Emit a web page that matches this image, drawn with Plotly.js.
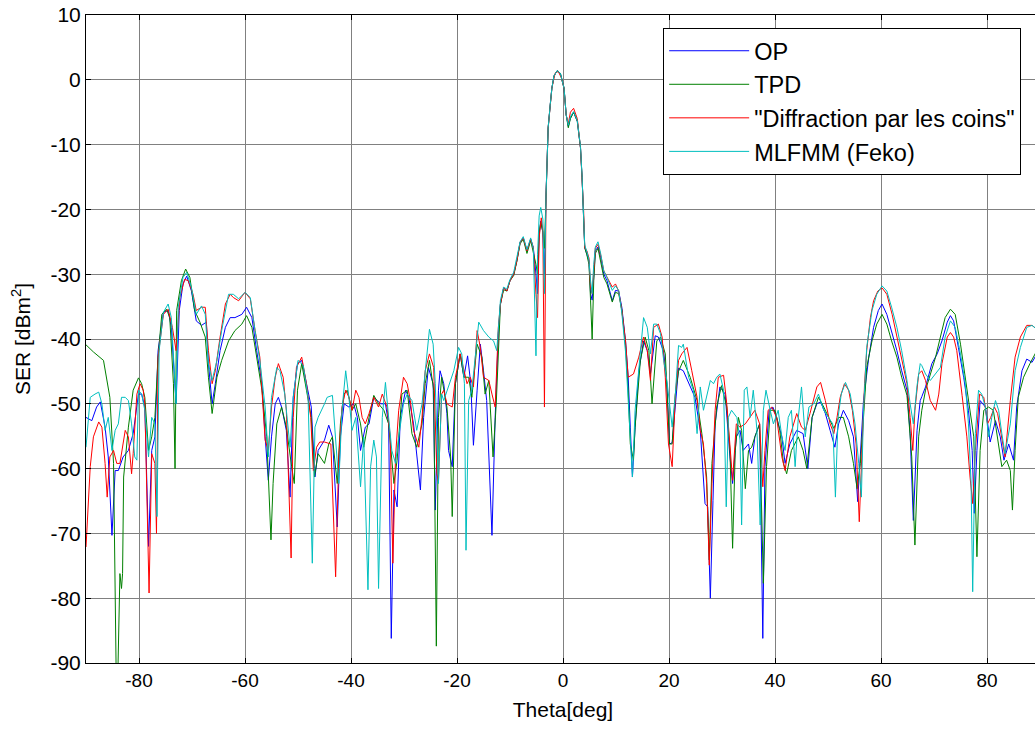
<!DOCTYPE html>
<html>
<head>
<meta charset="utf-8">
<script src="https://cdn.plot.ly/plotly-3.0.1.min.js"></script>
<style>
html,body{margin:0;padding:0;overflow:hidden;background:#fff;}
#chart{width:1045px;height:731px;}
</style>
</head>
<body>
<div id="chart"></div>
<script>
// ---- Series names ----
const seriesNames = ["OP", "TPD", "\"Diffraction par les coins\"", "MLFMM (Feko)"];

// ---- OP (blue) ----
const opTheta = [-90,-88.9,-88.0,-87.3,-86.4,-85.8,-85.1,-84.5,-83.9,-83.0,-82.0,-81.1,-80.1,-79.5,-78.9,-78.2,-77.6,-77.0,-76.4,-75.4,-74.5,-73.9,-73.0,-72.4,-71.7,-71.0,-70.1,-69.2,-68.2,-67.3,
-66.9,-66.2,-65.6,-64.7,-63.7,-62.8,-61.9,-60.6,-59.7,-58.7,-57.8,-56.8,-56.2,-55.6,-55.0,-54.3,-53.7,-53.1,-52.2,-51.5,-50.9,-50.1,-49.3,-48.4,-47.5,-46.8,-46.2,-45.0,
-44.2,-43.5,-42.6,-42.0,-41.3,-40.4,-39.5,-38.8,-38.2,-37.3,-36.6,-35.7,-34.4,-33.5,-32.9,-32.4,-31.9,-31.3,-30.7,-29.7,-29.1,-28.2,-27.2,-26.9,-26.3,-25.4,-24.5,-24.1,-23.5,-23.2,-22.5,
-21.9,-21.6,-20.9,-20.3,-19.4,-18.7,-18.0,-17.4,-16.9,-16.2,-15.6,-15.0,-14.4,-13.4,-12.8,-12.2,
-11.8,-11.2,-10.6,-10.0,-9.3,-8.7,-8.1,-7.5,-6.8,-6.1,-5.6,-5.1,-4.8,-4.5,-4.2,-3.8,-3.5,-3.2,-2.8,-2.4,-2.1,-1.7,-1.1,-0.5,0.2,0.6,1.0,1.4,2.0,2.7,3.3,3.6,3.9,4.1,4.5,4.9,5.2,5.5,5.8,6.1,6.6,7.1,7.7,8.3,9.3,9.9,10.5,11.1,11.8,12.3,12.7,13.1,13.6,14.3,15.2,15.9,16.5,17.4,18.0,19.0,19.6,20.1,20.6,21.2,21.8,22.7,
23.7,24.9,25.9,26.8,27.3,27.8,28.3,28.7,29.6,30.6,31.5,32.0,32.7,33.4,34.0,35.0,35.6,36.2,37.1,37.7,38.1,38.9,39.6,40.3,41.3,41.9,42.8,44.1,45.3,
45.7,46.2,47.0,47.9,48.6,49.5,50.4,51.3,52.0,52.9,53.9,54.8,55.6,56.1,56.7,57.7,58.6,59.5,60.2,61.1,62.0,63.0,63.9,64.9,65.5,66.1,66.8,67.4,67.7,
68.4,69.6,70.6,71.5,72.5,73.1,73.7,74.6,75.6,76.5,77.2,77.6,78.1,78.7,79.7,80.6,81.6,82.5,83.2,84.1,85.0,85.6,86.6,87.5,88.5,89.4,90];
const opSER = [-52.1,-52.6,-50.5,-49.7,-53.6,-58.2,-70.3,-60.3,-60.3,-58.2,-57.2,-54.6,-48.5,-48.5,-50.5,-72.0,-57.2,-55.1,-41.8,-35.9,-35.6,-38.2,-50.0,-35.6,-31.5,-30.3,-32.6,-37.2,-37.9,-37.4,
-43.8,-50.0,-46.9,-41.8,-38.2,-36.7,-36.7,-36.2,-35.1,-36.7,-41.8,-46.9,-55.1,-61.8,-55.1,-50.0,-49.0,-50.5,-54.1,-64.4,-49.0,-43.8,-43.3,-46.9,-50.5,-61.3,-57.2,-55.6,
-53.3,-55.1,-69.0,-55.1,-50.0,-50.5,-50.0,-52.1,-57.2,-53.6,-53.1,-49.0,-50.0,-50.0,-53.1,-86.2,-63.3,-65.9,-52.1,-47.9,-49.0,-53.1,-60.3,-63.3,-52.1,-44.4,-46.9,-66.4,-47.9,-44.9,-46.9,
-51.5,-57.2,-59.7,-46.9,-42.3,-45.9,-42.6,-46.9,-56.4,-47.9,-40.8,-44.9,-49.5,-70.3,-52.1,-39.2,
-34.6,-32.1,-32.6,-31.0,-30.0,-27.9,-25.1,-24.4,-26.4,-24.6,-25.9,-30.0,-33.0,-24.0,-21.8,-23.5,-30.0,-17.7,-7.4,-3.8,-1.3,0.6,1.4,1.0,-1.3,-5.4,-7.2,-5.9,-5.0,-6.4,-10.5,-15.1,-20.3,-25.9,-26.9,-28.0,-33.0,-34.0,-30.5,-26.4,-25.8,-27.4,-30.0,-31.0,-34.1,-32.5,-32.6,-35.1,-40.3,-45.9,-53.6,-61.3,-53.6,-45.0,-40.3,-41.8,-45.4,-39.5,-39.7,-42.0,-47.0,-56.2,-56.0,-50.0,-44.5,-44.9,
-46.9,-49.0,-54.1,-65.4,-65.9,-80.0,-64.9,-53.1,-47.4,-48.5,-58.2,-62.3,-55.1,-54.1,-57.2,-56.2,-59.2,-55.1,-53.1,-86.2,-59.7,-51.0,-50.5,-52.1,-55.1,-59.2,-56.2,-54.1,-54.6,
-57.2,-60.0,-52.1,-50.0,-49.7,-51.5,-54.1,-56.7,-53.1,-51.0,-52.6,-55.1,-65.1,-57.7,-49.5,-42.8,-38.2,-35.6,-34.6,-36.2,-38.7,-41.8,-44.9,-47.9,-54.6,-68.0,-54.1,-49.5,-48.9,
-47.4,-43.8,-42.3,-40.3,-37.4,-36.4,-37.2,-41.3,-45.9,-51.0,-57.2,-66.9,-57.2,-49.5,-50.5,-55.9,-52.6,-55.1,-58.7,-56.2,-58.7,-50.5,-44.9,-43.1,-43.6,-42.3,-42.0];

// ---- TPD (green) ----
const tpdTheta = [-90,-88.6,-86.7,-85.5,-84.8,-84.3,-84.0,-83.6,-83.3,-83.1,-82.9,-82.0,-81.1,-80.1,-79.5,-78.9,-78.2,-77.6,-77.0,-76.4,-75.7,-74.8,-74.2,-73.5,-73.2,-72.9,-72.0,-71.2,-70.4,-69.5,-68.5,-67.5,
-66.9,-66.2,-65.3,-64.4,-63.1,-61.9,-60.6,-59.7,-58.7,-57.8,-56.8,-55.9,-55.1,-54.7,-54.0,-53.1,-52.2,-51.2,-50.7,-50.1,-49.3,-48.4,-47.5,-46.9,-46.2,-45.0,
-44.2,-43.5,-42.6,-42.0,-41.3,-40.7,-39.8,-39.1,-38.2,-37.6,-36.6,-35.7,-34.8,-33.8,-32.9,-31.9,-31.3,-30.4,-29.4,-28.5,-27.6,-26.6,-26.0,-25.2,-24.4,-23.9,-23.5,-22.9,
-21.9,-21.2,-20.9,-20.3,-19.4,-18.7,-17.8,-17.2,-16.2,-15.3,-14.7,-14.0,-13.2,-12.6,-12.0,
-11.8,-11.2,-10.6,-10.0,-9.3,-8.7,-8.1,-7.5,-6.8,-6.1,-5.6,-5.1,-4.8,-4.5,-4.2,-3.8,-3.5,-3.2,-2.8,-2.4,-2.1,-1.7,-1.1,-0.5,0.2,0.6,1.0,1.4,2.0,2.7,3.3,3.6,3.9,4.1,4.5,4.9,5.2,5.5,5.8,6.1,6.6,7.1,7.7,8.3,9.3,9.9,10.5,11.1,11.8,12.3,12.7,13.3,13.6,14.6,15.5,16.2,16.8,17.7,18.4,19.3,20.1,20.6,21.2,21.8,22.7,
24.0,25.3,26.2,27.1,27.6,28.1,29.0,29.9,30.9,31.5,32.0,32.5,33.1,33.7,34.4,35.0,35.6,36.2,37.1,37.8,38.4,39.1,40.0,40.9,41.6,42.2,43.1,44.4,45.3,
46.0,47.0,48.2,49.2,50.1,51.1,52.0,52.9,53.9,54.8,55.5,56.1,56.7,57.3,58.3,59.2,60.2,61.1,62.0,63.0,63.9,64.9,65.8,66.4,67.1,67.7,
68.4,69.3,70.3,71.2,72.1,73.1,74.0,75.0,75.9,76.8,77.5,78.1,78.7,79.4,80.3,81.2,81.9,82.8,83.7,84.4,84.8,85.3,85.9,86.9,88.1,88.8,89.4,90];
const tpdSER = [-40.9,-42.0,-43.3,-49.0,-59.2,-92.0,-92.0,-76.2,-78.5,-76.2,-61.3,-53.6,-47.9,-46.0,-46.9,-49.0,-57.2,-55.1,-52.1,-42.8,-36.2,-35.4,-36.7,-46.9,-60.0,-35.6,-31.0,-29.2,-30.5,-35.6,-37.4,-39.7,
-45.9,-51.5,-45.9,-43.3,-40.3,-38.7,-37.7,-36.4,-38.2,-42.8,-47.9,-55.1,-71.0,-62.3,-53.1,-50.5,-53.6,-59.7,-62.3,-47.9,-43.8,-47.9,-52.1,-61.3,-57.7,-59.2,
-56.2,-55.1,-62.3,-53.1,-48.5,-47.9,-51.0,-50.0,-53.1,-56.7,-52.1,-48.7,-50.0,-51.0,-53.1,-62.3,-58.7,-48.5,-47.9,-54.6,-56.7,-53.1,-46.9,-43.3,-47.9,-87.4,-52.1,-45.9,
-50.5,-58.2,-67.4,-46.9,-42.3,-45.9,-45.9,-49.0,-40.8,-42.8,-48.5,-46.4,-58.2,-50.0,-38.7,
-34.6,-32.4,-32.6,-31.0,-30.2,-28.0,-25.3,-24.6,-26.8,-24.8,-26.5,-28.5,-30.0,-23.5,-22.0,-23.5,-26.0,-17.7,-7.4,-3.8,-1.3,0.6,1.4,1.0,-1.3,-5.4,-7.4,-6.0,-5.0,-6.4,-10.5,-15.1,-20.3,-25.9,-27.0,-28.5,-34.0,-40.0,-31.0,-26.8,-26.0,-28.0,-30.5,-31.5,-34.3,-32.8,-33.0,-35.5,-41.0,-48.0,-56.2,-58.7,-53.6,-43.3,-39.7,-41.8,-50.0,-40.3,-39.7,-42.3,-56.2,-56.2,-48.5,-45.0,-43.3,
-45.9,-49.5,-54.6,-61.3,-74.1,-59.2,-50.5,-47.2,-50.5,-57.2,-72.3,-57.2,-52.1,-54.1,-63.1,-57.2,-56.7,-55.1,-53.1,-77.7,-59.7,-51.0,-51.0,-54.1,-59.2,-60.8,-57.2,-55.1,-57.2,
-60.0,-52.1,-49.0,-50.5,-52.1,-53.8,-52.1,-52.1,-55.1,-59.2,-63.1,-59.2,-52.1,-44.4,-40.3,-37.7,-36.2,-37.7,-40.3,-42.8,-45.9,-48.7,-58.2,-71.8,-55.1,-51.0,
-47.9,-45.4,-42.8,-39.7,-36.7,-35.4,-36.2,-40.8,-45.9,-51.0,-55.1,-73.6,-57.2,-51.0,-50.5,-51.0,-54.6,-59.7,-58.7,-60.3,-66.4,-57.2,-49.0,-45.9,-43.8,-42.6,-41.8,-41.5];

// ---- "Diffraction par les coins" (red) ----
const dpcTheta = [-90,-89.2,-88.6,-87.6,-87.0,-86.4,-86.0,-85.5,-84.8,-84.2,-83.6,-82.6,-82.0,-81.4,-81.1,-80.4,-79.8,-79.2,-78.9,-78.1,-77.6,-77.0,-76.7,-76.4,-75.4,-74.5,-73.7,-73.0,-72.3,-71.4,-70.7,-69.8,-69.2,-68.2,
-67.5,-66.9,-66.2,-65.6,-64.7,-63.7,-62.8,-62.2,-61.2,-60.0,-59.0,-58.1,-57.2,-56.2,-55.6,-55.0,-54.3,-53.7,-52.8,-52.2,-51.3,-50.9,-50.3,-49.3,-48.4,-47.6,-47.1,-46.5,-45.9,-45.0,
-43.8,-42.9,-42.3,-41.7,-41.0,-40.4,-39.8,-39.1,-38.5,-37.9,-37.3,-36.6,-35.7,-34.8,-34.1,-33.2,-32.6,-32.1,-31.6,-31.0,-30.1,-29.4,-28.8,-28.2,-27.2,-26.6,-26.0,-25.2,-24.4,-23.8,-23.5,-22.9,-22.5,
-21.9,-20.9,-20.3,-19.4,-18.7,-18.1,-17.5,-16.9,-16.2,-15.6,-15.0,-14.0,-13.4,-12.8,-12.2,
-11.8,-11.2,-10.6,-10.0,-9.3,-8.7,-8.1,-7.5,-6.8,-6.1,-5.6,-5.1,-4.8,-4.5,-4.1,-3.8,-3.5,-3.2,-2.8,-2.1,-1.5,-0.9,-0.3,0.2,0.6,1.0,1.4,2.0,2.7,3.3,3.6,3.9,4.1,4.5,4.9,5.2,5.5,5.8,6.1,6.6,7.1,7.7,8.3,9.3,9.9,10.5,11.1,11.8,12.3,13.3,14.3,15.2,15.9,16.5,17.1,18.0,18.7,19.3,19.9,20.6,21.2,21.8,22.4,
23.4,24.3,25.3,25.9,26.5,27.1,27.6,28.1,28.7,29.3,30.3,30.9,31.5,32.0,32.7,33.4,34.4,35.3,36.2,37.1,37.7,38.1,38.7,39.4,40.3,41.3,41.9,42.8,44.1,45.0,
45.7,46.6,47.9,48.6,49.5,50.4,51.1,51.7,52.3,53.1,53.9,54.6,55.3,55.9,56.4,56.9,57.3,58.0,58.6,59.4,60.2,61.1,62.1,63.0,64.0,64.9,65.5,66.0,66.4,67.1,67.7,
68.4,69.3,70.3,70.9,71.5,72.5,73.1,73.7,74.3,75.3,76.2,76.8,77.3,77.8,78.6,79.4,80.1,80.7,81.4,82.0,82.8,83.4,84.4,85.3,86.3,87.5,88.5,89.4,90];
const dpcSER = [-72.1,-59.7,-55.1,-52.8,-53.6,-59.2,-64.4,-58.2,-57.2,-59.2,-59.2,-54.1,-55.1,-60.8,-57.7,-48.5,-46.9,-47.9,-50.0,-79.2,-57.7,-59.2,-70.0,-42.8,-36.2,-35.4,-38.2,-41.8,-33.6,-30.8,-31.0,-33.1,-35.6,-35.1,
-35.1,-41.8,-46.9,-44.9,-39.7,-34.6,-33.1,-33.6,-34.1,-32.8,-33.8,-38.7,-42.8,-55.6,-57.2,-50.5,-45.9,-43.8,-45.9,-51.0,-73.8,-52.1,-44.4,-42.8,-46.9,-52.1,-60.3,-56.7,-55.9,-55.9,
-56.2,-76.7,-58.2,-50.5,-47.9,-49.0,-51.0,-47.9,-49.0,-52.1,-53.1,-51.5,-49.0,-50.5,-48.5,-50.5,-55.1,-74.6,-58.2,-51.0,-45.9,-46.9,-49.5,-54.1,-56.7,-52.1,-44.9,-42.3,-44.4,-60.8,-62.0,-48.5,-47.9,
-50.0,-50.5,-45.9,-42.3,-44.9,-46.9,-45.9,-47.4,-38.7,-41.3,-45.9,-46.4,-48.5,-50.5,-38.2,
-34.6,-32.1,-32.6,-31.0,-30.0,-27.9,-25.1,-24.4,-26.4,-24.6,-25.9,-33.1,-36.7,-24.4,-21.3,-23.3,-50.5,-17.7,-7.4,-1.3,1.0,1.3,0.3,-1.3,-5.4,-6.8,-5.0,-4.4,-6.0,-10.5,-15.1,-20.3,-25.9,-26.4,-27.5,-32.0,-33.0,-29.0,-26.0,-25.4,-27.0,-29.5,-30.5,-32.0,-31.5,-32.6,-35.6,-40.3,-45.9,-45.4,-42.8,-39.7,-41.8,-46.4,-38.2,-37.7,-39.7,-45.9,-56.2,-59.7,-48.5,-43.3,-42.3,
-41.3,-44.9,-49.0,-54.1,-56.2,-62.3,-74.9,-62.3,-51.0,-45.9,-45.6,-50.0,-57.2,-61.8,-53.1,-53.6,-53.1,-52.1,-51.0,-53.1,-62.8,-57.2,-51.0,-50.5,-52.1,-58.2,-60.3,-55.1,-51.5,-53.6,
-54.1,-51.5,-47.4,-46.7,-49.5,-53.1,-54.6,-52.1,-49.0,-46.9,-47.9,-51.0,-56.2,-68.2,-57.2,-46.9,-41.8,-36.7,-34.1,-32.6,-32.1,-33.1,-36.2,-39.7,-43.3,-46.9,-52.1,-57.2,-51.0,-45.4,-44.9,
-46.4,-49.5,-51.0,-48.5,-43.8,-39.7,-39.0,-39.7,-41.8,-48.7,-55.1,-61.3,-65.4,-57.2,-48.5,-49.0,-53.1,-52.1,-50.5,-51.5,-55.1,-58.2,-49.5,-42.8,-39.7,-37.9,-37.9,-38.5,-38.5];

// ---- MLFMM (Feko) (cyan) ----
const mlfTheta = [-90,-89.2,-88.3,-87.6,-87.0,-86.4,-85.8,-85.1,-84.5,-83.9,-83.3,-82.6,-82.0,-81.4,-80.8,-80.4,-80.1,-79.5,-78.9,-78.2,-77.6,-77.0,-76.6,-76.2,-75.4,-74.5,-73.9,-73.0,-72.6,-71.7,-71.0,-70.1,-69.2,-68.2,
-67.5,-66.9,-66.2,-65.3,-64.4,-63.1,-62.2,-61.2,-60.0,-59.0,-58.1,-57.2,-56.2,-55.6,-55.0,-54.0,-53.4,-52.5,-51.5,-50.9,-50.0,-49.0,-48.1,-47.3,-46.8,-46.2,-45.0,
-44.5,-43.5,-42.9,-42.3,-41.7,-41.0,-40.4,-39.8,-39.1,-38.5,-38.2,-37.6,-36.8,-36.3,-35.7,-35.2,-34.8,-34.1,-33.5,-32.9,-32.3,-31.6,-31.0,-30.1,-29.4,-28.5,-27.6,-26.6,-26.0,-25.2,-24.5,-24.1,-23.5,-22.9,-22.5,
-21.6,-20.6,-19.7,-19.1,-18.6,-18.3,-17.8,-17.2,-16.5,-15.9,-15.0,-14.0,-13.1,-12.5,
-11.8,-11.2,-10.6,-10.0,-9.3,-8.7,-8.1,-7.5,-6.8,-6.1,-5.6,-5.1,-4.8,-4.5,-4.2,-3.8,-3.5,-3.2,-2.8,-2.4,-2.1,-1.7,-1.1,-0.5,0.2,0.6,1.0,1.4,2.0,2.7,3.3,3.6,3.9,4.1,4.5,4.9,5.2,5.5,5.8,6.1,6.6,7.1,7.7,8.3,9.3,9.9,10.5,11.1,11.8,12.3,12.7,13.1,13.6,14.6,15.2,15.9,16.5,17.1,17.7,18.4,19.0,19.6,20.6,21.2,21.8,22.4,
22.7,23.7,24.6,25.3,25.9,26.5,27.1,27.8,28.4,29.0,29.6,30.3,30.8,31.2,31.8,32.8,33.4,33.7,34.2,34.7,35.3,35.9,36.6,37.2,37.8,38.3,39.1,39.7,40.6,41.3,41.9,42.5,43.1,43.8,44.4,45.0,
45.7,46.4,47.3,48.2,49.2,50.1,50.9,51.4,51.9,52.5,53.3,54.2,55.1,55.8,56.3,56.7,57.3,58.3,59.2,60.2,61.1,62.0,63.0,63.9,64.9,65.5,66.1,66.8,67.4,67.7,
68.4,69.3,70.3,71.2,72.1,73.1,74.0,75.0,75.9,76.5,77.0,77.3,77.8,78.4,79.0,79.7,80.3,80.9,81.6,82.2,82.8,83.4,84.4,85.3,86.3,87.5,88.5,89.4,90];
const mlfSER = [-56.7,-49.0,-48.5,-48.2,-50.0,-54.1,-52.1,-57.2,-54.1,-53.1,-49.0,-49.0,-49.5,-53.1,-58.2,-58.7,-47.9,-48.5,-51.0,-58.2,-52.1,-53.1,-67.4,-41.8,-35.9,-34.6,-36.7,-50.0,-35.1,-30.5,-29.7,-32.1,-36.2,-34.9,
-36.2,-43.8,-46.4,-43.3,-38.7,-33.1,-33.1,-33.8,-32.8,-33.6,-38.7,-43.3,-50.5,-58.2,-49.0,-44.4,-44.9,-48.5,-56.7,-49.0,-43.3,-44.1,-49.0,-74.6,-53.6,-52.1,-50.0,
-49.0,-48.7,-55.1,-62.3,-51.0,-44.9,-49.0,-54.1,-52.1,-59.2,-62.8,-55.1,-78.7,-59.7,-55.6,-58.2,-78.5,-52.1,-46.7,-52.1,-57.2,-59.2,-55.1,-50.0,-48.5,-49.5,-54.1,-50.0,-44.9,-38.5,-40.8,-46.9,-62.3,-48.5,-49.5,
-47.4,-44.9,-41.3,-42.3,-46.9,-72.6,-49.5,-47.9,-42.3,-37.4,-38.7,-39.7,-40.3,-41.8,
-34.0,-32.0,-32.3,-30.8,-29.7,-27.6,-25.0,-24.2,-26.2,-24.4,-26.0,-42.6,-27.0,-21.0,-19.7,-21.5,-33.0,-17.7,-7.4,-3.8,-1.3,0.6,1.4,1.0,-1.3,-5.4,-7.0,-5.7,-4.9,-6.3,-10.3,-15.0,-20.2,-25.5,-26.5,-27.8,-31.0,-33.0,-28.5,-25.8,-25.0,-26.8,-29.5,-30.5,-32.5,-31.8,-32.5,-36.0,-42.0,-50.0,-56.0,-61.3,-51.0,-41.5,-36.7,-38.2,-42.3,-37.7,-37.7,-39.2,-43.3,-46.4,-53.6,-48.5,-41.0,-41.3,
-40.8,-45.9,-47.9,-54.6,-47.4,-51.0,-49.0,-46.4,-46.9,-45.9,-45.4,-47.9,-65.9,-52.1,-51.0,-52.1,-55.6,-68.7,-47.9,-47.4,-52.1,-47.9,-54.1,-68.7,-51.0,-47.9,-51.0,-53.1,-51.0,-55.1,-57.2,-52.1,-51.0,-59.7,-52.1,-47.4,
-55.1,-50.5,-50.0,-48.5,-51.0,-52.1,-53.1,-64.4,-52.1,-48.5,-46.7,-48.5,-53.1,-59.2,-64.4,-51.0,-41.3,-35.6,-33.1,-31.8,-32.6,-35.1,-38.2,-41.8,-46.4,-50.0,-53.1,-47.2,-43.8,-44.1,
-45.4,-46.4,-45.4,-44.4,-39.7,-37.2,-38.2,-42.3,-46.9,-53.1,-62.3,-79.0,-54.6,-47.9,-48.5,-50.5,-55.1,-52.1,-49.5,-51.0,-54.6,-57.7,-53.1,-44.9,-41.3,-38.2,-37.9,-38.5,-38.5];

// ---- Axis ticks ----
const xTickVals = [-80, -60, -40, -20, 0, 20, 40, 60, 80];
const yTickVals = [10, 0, -10, -20, -30, -40, -50, -60, -70, -80, -90];

const colors = ["#0000ff", "#008000", "#ff0000", "#00bfbf"];
const xs = [opTheta, tpdTheta, dpcTheta, mlfTheta];
const ys = [opSER, tpdSER, dpcSER, mlfSER];

const traces = seriesNames.map((n, i) => ({
  x: xs[i], y: ys[i], name: n, type: "scatter", mode: "lines",
  line: {color: colors[i], width: 1}
}));

const fam = "Liberation Sans, Arial, sans-serif";

const layout = {
  width: 1045, height: 731,
  margin: {l: 86, r: 5, t: 15, b: 68},
  paper_bgcolor: "#fff", plot_bgcolor: "#fff",
  font: {family: fam, size: 19, color: "#000"},
  showlegend: true,
  legend: {
    x: 0.605, y: 0.98, xanchor: "left", yanchor: "top",
    bgcolor: "#fff", bordercolor: "#000", borderwidth: 1,
    font: {family: fam, size: 23.5, color: "#000"},
    itemwidth: 80, tracegroupgap: 0
  },
  xaxis: {
    range: [-90, 90], tickvals: xTickVals, ticktext: xTickVals.map(String),
    showgrid: true, gridcolor: "#808080", gridwidth: 1,
    zeroline: false, showline: true, linecolor: "#000", linewidth: 1, mirror: "ticks",
    ticks: "inside", ticklen: 5, tickcolor: "#000",
    title: {text: "Theta[deg]", font: {family: fam, size: 21, color: "#000"}, standoff: 12},
    tickfont: {family: fam, size: 19, color: "#000"}
  },
  yaxis: {
    range: [-90, 10], tickvals: yTickVals, ticktext: yTickVals.map(String),
    showgrid: true, gridcolor: "#808080", gridwidth: 1,
    zeroline: false, showline: true, linecolor: "#000", linewidth: 1, mirror: "ticks",
    ticks: "inside", ticklen: 5, tickcolor: "#000",
    title: {text: "SER [dBm<sup>2</sup>]", font: {family: fam, size: 21, color: "#000"}, standoff: 14},
    tickfont: {family: fam, size: 21, color: "#000"}
  }
};

Plotly.newPlot("chart", traces, layout, {displayModeBar: false, staticPlot: true});
</script>
</body>
</html>
